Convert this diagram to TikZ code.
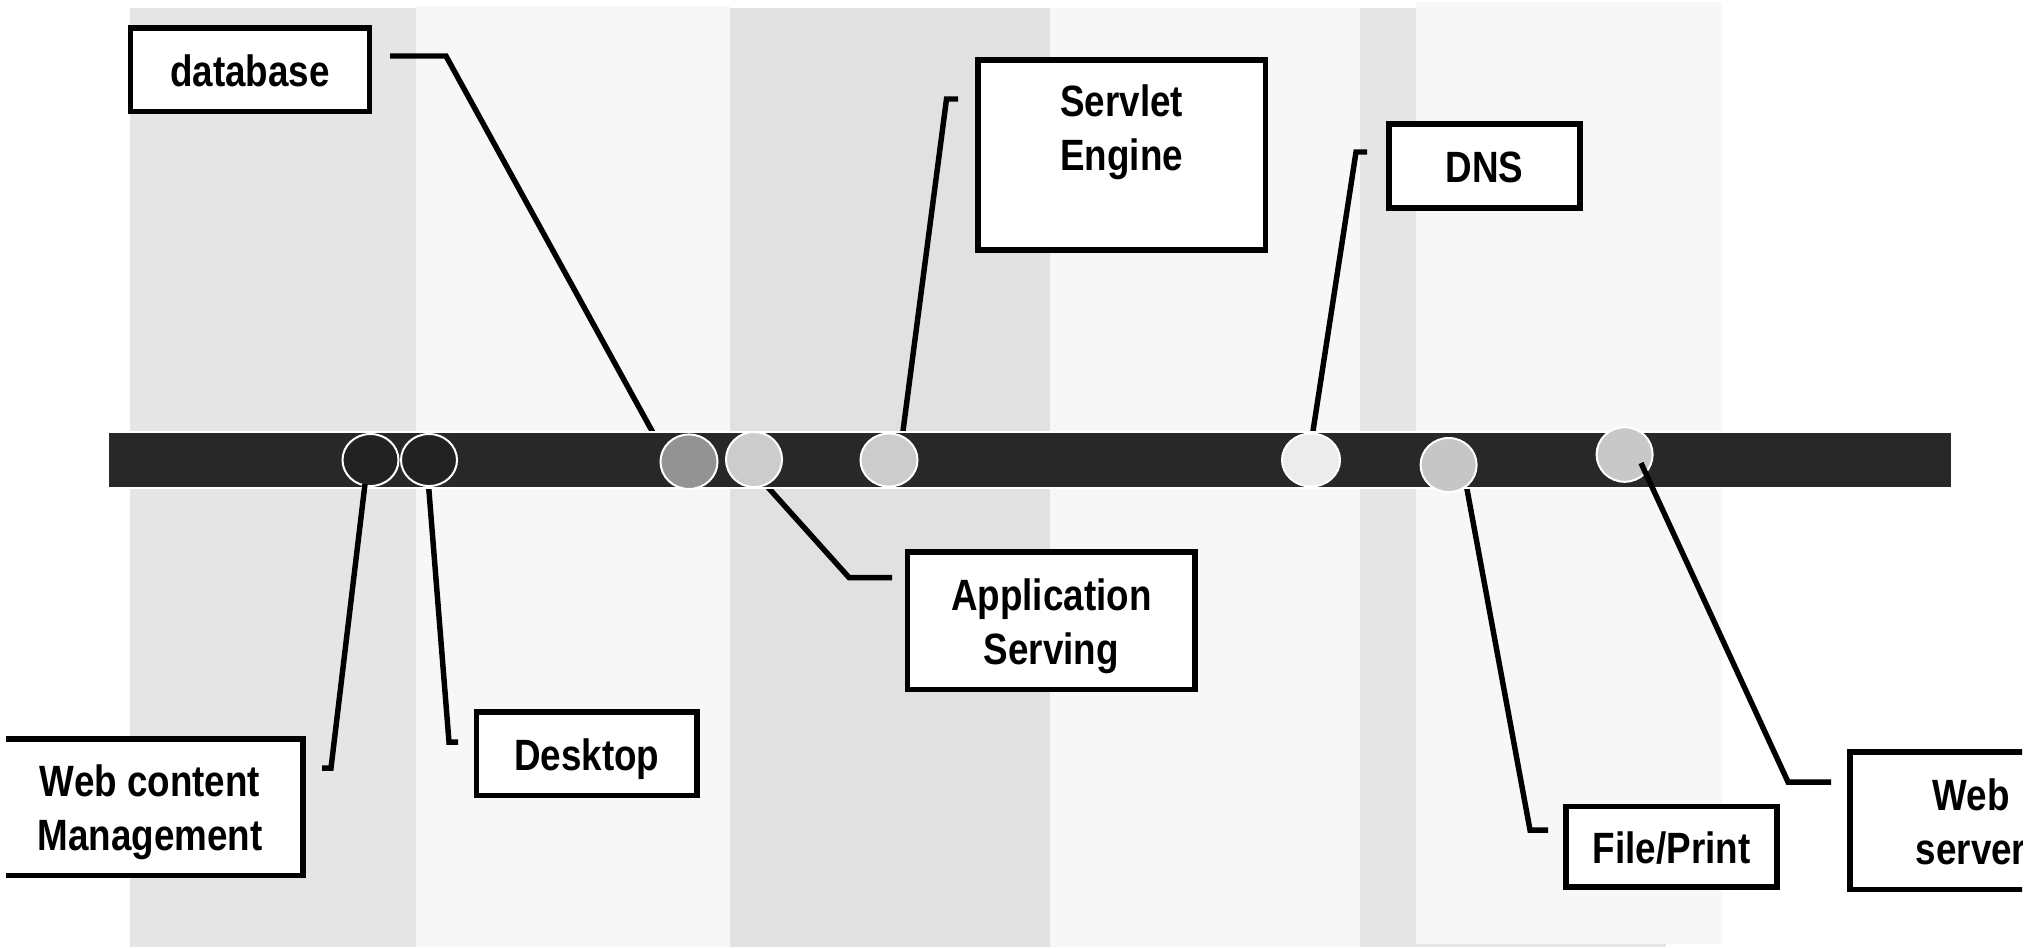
\documentclass[tikz,border=0pt]{standalone}
\usepackage{fontspec}
\newfontfamily\lblfont{Liberation Sans}[FakeStretch=0.84]
\usetikzlibrary{shapes.geometric}
\definecolor{bandA}{HTML}{E5E5E5}
\definecolor{bandB}{HTML}{F7F7F7}
\definecolor{bandC}{HTML}{E1E1E1}
\definecolor{barc}{HTML}{282828}
\definecolor{cdark}{HTML}{222222}
\definecolor{cthree}{HTML}{939393}
\definecolor{cfour}{HTML}{CCCCCC}
\definecolor{csix}{HTML}{ECECEC}
\definecolor{cseven}{HTML}{C6C6C6}
\definecolor{ceight}{HTML}{C8C8C8}
\newcommand\boxtext[2][-1.7pt]{\raisebox{#1}[\height][\depth]{\begin{tabular}{@{}c@{}}#2\end{tabular}}}
\begin{document}
\begin{tikzpicture}[x=0.01cm,y=-0.01cm,
  lbox/.style={draw=black, fill=white, line width=1.62pt, inner sep=0pt,
    font=\lblfont\bfseries\fontsize{12.46pt}{15.36pt}\selectfont},
  conn/.style={draw=black, line width=1.55pt, line join=miter},
  dot/.style={ellipse, draw=white, line width=0.57pt, inner sep=0pt}]
\useasboundingbox (0,0) rectangle (2034,947);
\begin{scope}
\clip (6,0) rectangle (2022,947);
% background bands
\fill[bandA] (130,8) rectangle (416,947);
\fill[bandB] (416,6) rectangle (730,947);
\fill[bandC] (730,8) rectangle (1050,947);
\fill[bandB] (1050,8) rectangle (1360,947);
\fill[bandA] (1360,8) rectangle (1666,947);
\fill[bandB] (1416,2) rectangle (1722,944);
% connector end points
\coordinate (db-s) at (390,56);   \coordinate (db-k) at (446,56);   \coordinate (db-e) at (657,440);
\coordinate (se-s) at (958,99);   \coordinate (se-k) at (946.5,99); \coordinate (se-e) at (901.8,440);
\coordinate (dns-s) at (1367,152); \coordinate (dns-k) at (1356,152); \coordinate (dns-e) at (1311.6,440);
\coordinate (desk-s) at (458,742); \coordinate (desk-k) at (449,742); \coordinate (desk-e) at (428.1,480);
\coordinate (app-s) at (892,577.5); \coordinate (app-k) at (849,577.5); \coordinate (app-e) at (761.4,480);
\coordinate (fp-s) at (1548,830); \coordinate (fp-k) at (1530,830); \coordinate (fp-e) at (1465.3,480);
\coordinate (wcm-s) at (322,768); \coordinate (wcm-k) at (331,768); \coordinate (wcm-e) at (365,484);
\coordinate (ws-s) at (1831,782); \coordinate (ws-k) at (1788,782); \coordinate (ws-e) at (1641,463);
% connectors behind the bar
\draw[conn] (db-s) -- (db-k) -- (db-e);
\draw[conn] (se-s) -- (se-k) -- (se-e);
\draw[conn] (dns-s) -- (dns-k) -- (dns-e);
\draw[conn] (desk-s) -- (desk-k) -- (desk-e);
\draw[conn] (app-s) -- (app-k) -- (app-e);
\draw[conn] (fp-s) -- (fp-k) -- (fp-e);
% bar
\fill[white] (109,431) rectangle (1951,489);
\fill[barc] (109,433) rectangle (1951,487);
% dots on the bar
\node[dot, fill=cdark, minimum width=0.56cm, minimum height=0.52cm] (c1) at (370.5,460) {};
\node[dot, fill=cdark, minimum width=0.56cm, minimum height=0.52cm] (c2) at (429,460) {};
\node[dot, fill=cthree, minimum width=0.57cm, minimum height=0.545cm] (c3) at (689,461.7) {};
\node[dot, fill=cfour, minimum width=0.56cm, minimum height=0.55cm] (c4) at (754,459.5) {};
\node[dot, fill=cfour, minimum width=0.57cm, minimum height=0.53cm] (c5) at (889,460) {};
\node[dot, fill=csix, minimum width=0.58cm, minimum height=0.53cm] (c6) at (1311,460) {};
\node[dot, fill=cseven, minimum width=0.56cm, minimum height=0.54cm] (c7) at (1448.6,465) {};
\node[dot, fill=ceight, minimum width=0.56cm, minimum height=0.545cm] (c8) at (1624.6,454.5) {};
% connectors over the dots
\draw[conn] (wcm-s) -- (wcm-k) -- (wcm-e);
\draw[conn] (ws-s) -- (ws-k) -- (ws-e);
% label boxes
\node[lbox, minimum width=2.39cm, minimum height=0.833cm] (db) at (250,69.7) {\boxtext{database}};
\node[lbox, minimum width=2.873cm, minimum height=1.90cm] (se) at (1121.7,154.7) {\boxtext[6.2pt]{Servlet\\Engine}};
\node[lbox, minimum width=1.91cm, minimum height=0.834cm] (dns) at (1484.3,166) {\boxtext{DNS}};
\node[lbox, minimum width=2.873cm, minimum height=1.373cm] (app) at (1051.3,620.7) {\boxtext{Application\\Serving}};
\node[lbox, minimum width=3.06cm, minimum height=1.366cm] (wcm) at (150,807) {\boxtext{Web content\\Management}};
\node[lbox, minimum width=2.205cm, minimum height=0.83cm] (desk) at (586.7,753.8) {\boxtext{Desktop}};
\node[lbox, minimum width=2.107cm, minimum height=0.807cm] (fp) at (1671.7,846.7) {\boxtext{File/Print}};
\node[lbox, minimum width=2.423cm, minimum height=1.372cm] (ws) at (1971,820.9) {\boxtext{Web\\server}};
\end{scope}
\end{tikzpicture}
\end{document}
